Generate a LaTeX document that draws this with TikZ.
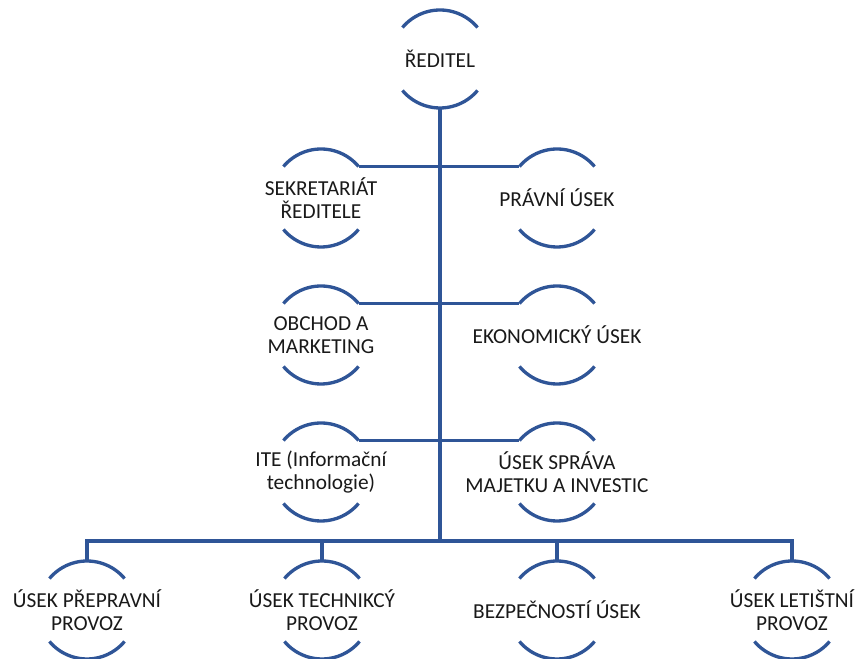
\documentclass[tikz,border=0pt]{standalone}
\usepackage{fontspec}
\setmainfont{Carlito}
\definecolor{linkblue}{RGB}{47,85,151}

\begin{document}
\begin{tikzpicture}[x=0.75pt, y=0.75pt,
    unit/.style={align=center, inner sep=0pt, text=black!90,
        font=\fontsize{16}{16.8}\selectfont},
    link/.style={linkblue, line width=2.5pt}]

    % Sizes of the picture
    \def\rad{49}
    \useasboundingbox (0, 0) rectangle (857, 659);

    % Units
    \node[unit] (dir) at (440, 600) {ŘEDITEL};
    \node[unit] (sek) at (321, 461) {SEKRETARIÁT\\ŘEDITELE};
    \node[unit] (prav) at (557, 461) {PRÁVNÍ ÚSEK};
    \node[unit] (obch) at (321, 324) {OBCHOD A\\MARKETING};
    \node[unit] (eko) at (557, 324) {EKONOMICKÝ ÚSEK};
    \node[unit] (ite) at (321, 187) {ITE (Informační\\technologie)};
    \node[unit] (maj) at (557, 187) {ÚSEK SPRÁVA\\MAJETKU A INVESTIC};
    \node[unit] (prep) at (87, 49) {ÚSEK PŘEPRAVNÍ\\PROVOZ};
    \node[unit] (tech) at (322, 49) {ÚSEK TECHNIKCÝ\\PROVOZ};
    \node[unit] (bezp) at (557, 49) {BEZPEČNOSTÍ ÚSEK};
    \node[unit] (let) at (792, 49) {ÚSEK LETIŠTNÍ\\PROVOZ};
    \coordinate (bus) at (440, 118);

    % Arcs above and below each unit
    \foreach \u in {dir, sek, prav, obch, eko, ite, maj, prep, tech, bezp, let} {
        \draw[link] ([shift={(40:\rad)}]\u.center) arc[start angle=40, end angle=140, radius=\rad];
        \draw[link] ([shift={(220:\rad)}]\u.center) arc[start angle=220, end angle=320, radius=\rad];
    }

    % Trunk and side branches
    \draw[link] ([shift={(270:\rad)}]dir.center) -- (bus);
    \foreach \l/\r in {sek/prav, obch/eko, ite/maj}
        \draw[link] ([shift={(40:\rad)}]\l.center) -- ([shift={(140:\rad)}]\r.center);

    % Bottom row
    \draw[link] ([shift={(90:\rad)}]prep.center) -- (prep |- bus) -- (let |- bus) -- ([shift={(90:\rad)}]let.center);
    \foreach \u in {tech, bezp}
        \draw[link] (\u |- bus) -- ([shift={(90:\rad)}]\u.center);

\end{tikzpicture}
\end{document}
